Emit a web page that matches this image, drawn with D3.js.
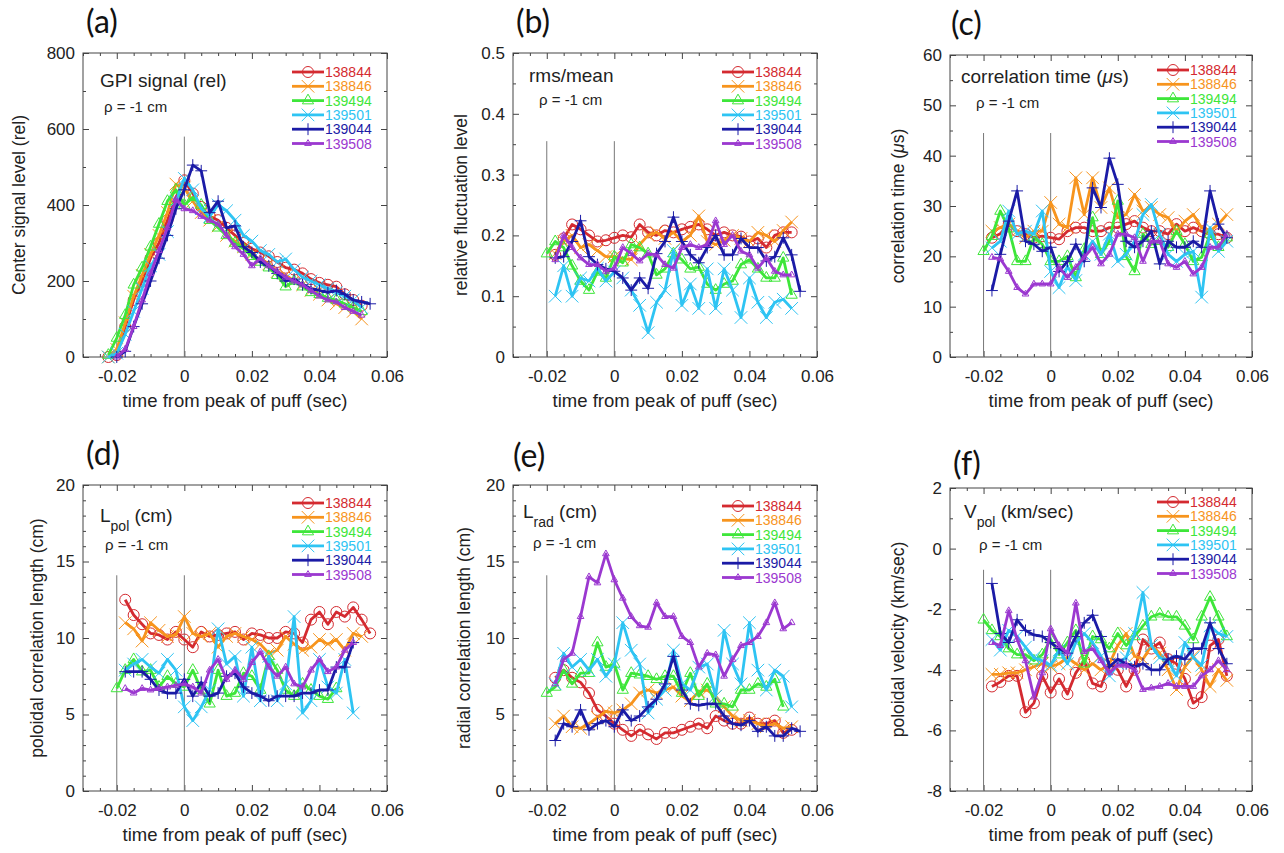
<!DOCTYPE html>
<html>
<head>
<meta charset="utf-8">
<script src="https://cdn.jsdelivr.net/npm/d3@7"></script>
<style>
  body { margin: 0; background: #fff; }
  svg { display: block; }
</style>
</head>
<body>
<script>
// shots, one colour and one marker each
const SHOTS = ["138844", "138846", "139494", "139501", "139044", "139508"];
const COLORS = ["#d42a30", "#f7941d", "#3ee63a", "#2ec4f3", "#1b1ba6", "#9b38d0"];
const MARKERS = ["circle", "times", "triangle", "times", "plus", "smallTriangle"];

// time from peak of puff (sec), common sample times
const TIME = [-0.0225, -0.02, -0.0175, -0.015, -0.0125, -0.01, -0.0075, -0.005, -0.0025, 0,
  0.0025, 0.005, 0.0075, 0.01, 0.0125, 0.015, 0.0175, 0.02, 0.0225, 0.025, 0.0275, 0.03,
  0.0325, 0.035, 0.0375, 0.04, 0.0425, 0.045, 0.0475, 0.05, 0.0525, 0.055];

const X_TICKS = [-0.02, 0, 0.02, 0.04, 0.06];

// (a) center signal level
const gpiSignal = [
  [0, 5, 80, 150, 200, 260, 300, 360, 420, 465, 430, 395, 370, 360, 340, 320, 300, 285, 275, 265, 250, 235, 230, 220, 205, 195, 190, 185, 165, 150, 135],
  [0, 20, 90, 160, 215, 270, 320, 380, 455, 445, 410, 380, 360, 345, 320, 305, 290, 270, 255, 245, 225, 215, 200, 190, 175, 165, 150, 140, 130, 120, 100],
  [5, 50, 110, 190, 235, 290, 350, 410, 440, 400, 420, 400, 360, 340, 320, 300, 285, 265, 250, 235, 215, 185, 200, 185, 170, 165, 155, 150, 140, 130, 120],
  [0, 10, 60, 120, 180, 240, 270, 330, 410, 470, 440, 390, 370, 400, 385, 360, 320, 305, 280, 270, 250, 258, 230, 210, 200, 190, 180, 170, 160, 150, 130],
  [null, 0, 15, 80, 140, 200, 260, 320, 390, 440, 505, 490, 380, 410, 340, 345, 290, 275, 250, 240, 220, 200, 205, 190, 180, 175, 170, 175, 165, 150, 145, 140],
  [null, 0, 20, 80, 150, 220, 280, 340, 415, 390, 385, 370, 360, 350, 320, 290, 270, 240, 260, 240, 225, 210, 200, 190, 175, 160, 150, 145, 130, 120, 110]
];

// (b) rms/mean
const rmsMean = [
  [null, null, 0.168, 0.195, 0.218, 0.21, 0.2, 0.19, 0.192, 0.196, 0.2, 0.197, 0.218, 0.205, 0.2, 0.208, 0.205, 0.21, 0.214, 0.218, 0.21, 0.2, 0.205, 0.2, 0.198, 0.19, 0.195, 0.18, 0.2, 0.205, 0.205],
  [null, null, 0.17, 0.19, 0.2, 0.18, 0.185, 0.175, 0.165, 0.165, 0.162, 0.16, 0.185, 0.2, 0.205, 0.195, 0.205, 0.19, 0.2, 0.232, 0.19, 0.185, 0.192, 0.2, 0.195, 0.19, 0.205, 0.2, 0.19, 0.208, 0.222],
  [null, 0.17, 0.19, 0.18, 0.15, 0.125, 0.11, 0.14, 0.13, 0.165, 0.155, 0.185, 0.18, 0.17, 0.135, 0.145, 0.17, 0.16, 0.145, 0.148, 0.12, 0.11, 0.12, 0.125, 0.152, 0.16, 0.145, 0.13, 0.13, 0.163, 0.102],
  [null, null, 0.1, 0.15, 0.1, 0.13, 0.125, 0.146, 0.125, 0.14, 0.13, 0.11, 0.085, 0.04, 0.09, 0.11, 0.175, 0.085, 0.12, 0.08, 0.145, 0.08, 0.145, 0.11, 0.065, 0.13, 0.09, 0.065, 0.09, 0.095, 0.08],
  [null, null, 0.163, 0.165, 0.19, 0.224, 0.165, 0.152, 0.145, 0.141, 0.13, 0.11, 0.13, 0.113, 0.17, 0.19, 0.23, 0.19, 0.168, 0.155, 0.18, 0.2, 0.168, 0.168, 0.195, 0.18, 0.18, 0.158, 0.165, 0.196, 0.168, 0.108],
  [null, null, 0.16, 0.2, 0.18, 0.163, 0.152, 0.152, 0.141, 0.146, 0.18, 0.17, 0.158, 0.17, 0.168, 0.152, 0.146, 0.18, 0.185, 0.18, 0.185, 0.224, 0.185, 0.2, 0.174, 0.168, 0.146, 0.163, 0.141, 0.135, 0.135]
];

// (c) correlation time (us)
const corrTime = [
  [null, null, 23.7, 24.5, 26.4, 25, 24.4, 23.7, 24, 23.7, 23.4, 25, 25.7, 25.7, 25, 25, 25.7, 25.7, 26.4, 27, 25.7, 25, 25, 24.4, 26.4, 25, 25.7, 25, 24.4, 24.4, 23.7],
  [null, null, 25, 25.7, 26.4, 25, 23.7, 25, 25, 30.7, 26.4, 25.7, 35.6, 28.3, 35.6, 29.7, 33.6, 27.7, 28.3, 32.3, 29, 29.7, 28.3, 27.7, 25, 27, 28.3, 25.7, 25, 26.4, 28.3],
  [null, 21, 24, 29, 25.5, 19, 19, 23.7, 22.4, 19, 19, 20, 15.8, 21.4, 27.7, 20.4, 23, 31, 20, 17, 24.4, 22.4, 23, 21.8, 25, 22.4, 19, 19.8, 24.4, 21.8, 23.7],
  [null, null, 21.7, 23, 29, 24.4, 25, 24.4, 29, 17, 13.8, 18, 15.2, 20.4, 23, 20.4, 24.4, 19, 20.4, 23, 28.3, 30.3, 24.4, 20.4, 19, 20.4, 21, 11.9, 25.7, 21, 23],
  [null, null, 13.2, 20.4, 27, 33, 23, 22.4, 21, 21.8, 17, 19, 22.4, 19, 33.6, 29.7, 39.5, 34.3, 23, 21.8, 23, 25, 18.5, 23, 21.8, 21.8, 23, 21.8, 33, 26.4, 23.7],
  [null, null, 19.8, 19.5, 17, 13.8, 12.5, 14.5, 14.5, 14.5, 17.8, 15.8, 17.8, 19.8, 21.8, 18.5, 20.4, 24.4, 24.4, 23.7, 19, 23, 23, 18.5, 17.8, 19, 16.5, 17.8, 21.8, 21.8, 24.4]
];

// (d) poloidal correlation length (cm)
const polCorrLength = [
  [null, null, 12.5, 11.5, 10.9, 10.3, 10.2, 9.9, 10.4, 9.9, 9.4, 10.4, 10.1, 10.2, 10.3, 10.4, 9.9, 10.3, 10.2, 10, 10, 10.4, 10.3, 9.7, 11.2, 11.7, 10.9, 11.7, 11.4, 12, 11.2, 10.3],
  [null, null, 11, 10.6, 9.8, 11, 10.5, 10.1, 10.2, 11.4, 10.3, 10.1, 10.3, 9.4, 10.1, 10.3, 10.1, 9.9, 9.6, 9, 9.2, 10.1, 9.6, 9.2, 9.4, 9.9, 9.6, 9.9, 9.2, 10.3, 10.1],
  [null, 6.7, 7.9, 8.6, 7.8, 7.9, 6.8, 7.5, 7.0, 6.8, 7.9, 6.6, 5.7, 7.9, 6.2, 6.4, 7.7, 7.5, 6.6, 8.8, 7.9, 6.6, 6.2, 7.0, 6.6, 6.2, 6.0, 6.7],
  [null, null, 7.9, 8.3, 8.6, 8.1, 7.7, 8.6, 7.9, 5.5, 4.6, 5.5, 6.6, 10.6, 8.3, 8.8, 6.2, 9.4, 5.9, 8.8, 5.9, 7.0, 11.4, 5.1, 5.9, 8.6, 6.8, 6.4, 8.6, 5.1],
  [null, null, 7.8, 7.8, 7.8, 7.3, 6.6, 6.4, 6.4, 7.3, 6.2, 7.1, 6.2, 6.4, 7.5, 7.7, 6.8, 6.4, 6.2, 5.9, 6.2, 6.2, 6.2, 6.4, 6.4, 6.6, 6.6, 8.1, 8.1, 9.7],
  [null, null, 6.7, 6.4, 6.7, 6.6, 6.7, 6.8, 6.9, 7.0, 6.8, 6.4, 7.9, 8.6, 7.3, 7.9, 7.3, 8.4, 9.1, 8.1, 7.5, 8.1, 7.0, 6.8, 7.9, 8.6, 7.8, 8.1, 9.2, 9.7]
];

// (e) radial correlation length (cm)
const radCorrLength = [
  [null, null, 7.4, 7.9, 7.4, 7.1, 6.4, 5.3, 4.9, 4.4, 4.0, 3.6, 4.0, 3.7, 3.4, 3.8, 3.8, 4.0, 4.2, 4.4, 4.1, 4.9, 4.6, 4.4, 4.4, 4.8, 4.4, 4.4, 4.6, 3.8, 4.0],
  [null, null, 4.4, 4.9, 4.2, 4.1, 4.4, 4.8, 5.2, 5.1, 5.3, 5.7, 6.4, 6.6, 6.4, 6.6, 6.8, 6.2, 5.9, 6.5, 6.6, 6.2, 5.5, 4.9, 4.6, 4.6, 4.4, 4.2, 4.4, 4.1, 4.2],
  [null, 6.4, 6.8, 7.9, 7.0, 7.7, 7.7, 9.7, 8.1, 8.3, 6.6, 7.7, 7.6, 7.5, 7.3, 7.5, 7.5, 6.4, 7.7, 6.2, 7.0, 5.7, 5.7, 5.5, 6.6, 6.6, 7.0, 6.8, 7.3, 5.5],
  [null, null, 7.0, 9.0, 8.1, 8.6, 7.9, 8.6, 7.5, 8.3, 11.0, 9.2, 8.3, 5.1, 6.0, 6.6, 9.2, 7.0, 6.6, 8.1, 8.3, 6.2, 10.5, 8.3, 7.0, 11.0, 7.9, 6.6, 7.9, 7.5, 5.5],
  [null, null, 3.3, 4.4, 4.2, 5.3, 4.0, 4.4, 4.6, 4.2, 5.3, 4.6, 4.9, 5.5, 6.0, 7.0, 8.8, 6.6, 5.7, 5.6, 5.7, 5.7, 4.9, 4.4, 4.3, 4.6, 3.9, 4.2, 3.6, 3.6, 4.1, 3.9],
  [null, null, 7.0, 8.6, 9.0, 11.4, 14.0, 13.6, 15.5, 13.8, 12.6, 11.4, 10.8, 10.7, 12.3, 11.4, 11.4, 10.1, 9.7, 8.1, 9.0, 8.9, 7.5, 8.6, 9.5, 9.7, 10.1, 11.0, 12.3, 10.6, 11.0]
];

// (f) poloidal velocity (km/sec)
const polVelocity = [
  [null, null, -4.55, -4.4, -4.2, -4.2, -5.4, -5.1, -4.2, -4.75, -4.3, -4.8, -4.1, -3.7, -4.45, -4.55, -3.8, -4.0, -4.55, -4.0, -3.0, -3.3, -3.1, -3.65, -3.8, -4.3, -5.1, -4.9, -3.2, -3.0, -4.2],
  [null, null, -4.15, -4.15, -4.1, -4.1, -4.0, -3.9, -3.8, -3.9, -3.8, -3.6, -3.8, -4.0, -3.8, -4.0, -3.8, -3.2, -2.8, -3.55, -3.65, -3.2, -3.45, -4.0, -4.65, -3.9, -3.55, -4.0, -4.55, -4.0, -4.35],
  [null, -2.35, -2.7, -2.9, -3.3, -3.5, -3.5, -3.7, -3.5, -3.0, -3.5, -3.1, -2.7, -3.8, -2.9, -3.0, -3.3, -2.8, -3.2, -2.9, -2.55, -2.25, -2.15, -2.25, -2.25, -2.55, -3.0, -2.25, -1.6, -2.25, -2.9],
  [null, null, -3.0, -3.35, -2.7, -2.9, -3.25, -3.6, -3.7, -3.85, -3.35, -3.8, -3.1, -2.8, -3.1, -3.55, -4.2, -3.8, -3.6, -2.8, -1.45, -3.2, -3.6, -3.7, -4.2, -3.1, -3.6, -3.85, -2.55, -2.8, -2.9],
  [null, null, -1.15, -2.8, -3.1, -2.35, -2.7, -2.85, -2.9, -3.1, -3.3, -3.45, -2.9, -2.45, -2.2, -2.9, -3.9, -3.65, -3.8, -3.9, -3.8, -4.0, -4.0, -3.65, -3.55, -3.65, -3.3, -3.3, -2.45, -3.3, -3.8],
  [null, null, -3.1, -3.2, -2.05, -3.0, -3.7, -4.9, -4.1, -2.65, -3.2, -3.45, -1.8, -3.4, -3.3, -3.7, -4.1, -3.85, -3.85, -4.0, -4.65, -4.6, -4.55, -4.45, -4.55, -4.55, -4.55, -4.2, -4.0, -3.7, -4.0]
];

// y tick labels per panel
const Y_TICKS_A = [0, 200, 400, 600, 800];
const Y_TICKS_B = [0, 0.1, 0.2, 0.3, 0.4, 0.5];
const Y_TICKS_C = [0, 10, 20, 30, 40, 50, 60];
const Y_TICKS_D = [0, 5, 10, 15, 20];
const Y_TICKS_E = [0, 5, 10, 15, 20];
const Y_TICKS_F = [-8, -6, -4, -2, 0, 2];

const FONT = "'Liberation Sans', Arial, Helvetica, sans-serif";

const panels = [
  { tag: "(a)", data: gpiSignal, yTicks: Y_TICKS_A, minor: 100, vTop: 580,
    yTitle: [["Center signal level (rel)"]],
    title: [["GPI signal (rel)"]],
    left: 83, top: 53, w: 304, h: 304, tagXY: [86, 33], yTitleX: 25, titleXY: [100, 87], rhoXY: [104, 112], legY: 72 },
  { tag: "(b)", data: rmsMean, yTicks: Y_TICKS_B, minor: 0.05, vTop: 0.355,
    yTitle: [["relative fluctuation level"]],
    title: [["rms/mean"]],
    left: 513, top: 53, w: 304, h: 304, tagXY: [516, 33], yTitleX: 467, titleXY: [529, 82], rhoXY: [539, 105], legY: 72 },
  { tag: "(c)", data: corrTime, yTicks: Y_TICKS_C, minor: 5, vTop: 44.5,
    yTitle: [["correlation time ("], ["\u03bc", "italic"], ["s)"]],
    title: [["correlation time ("], ["\u03bc", "italic"], ["s)"]],
    left: 950, top: 55, w: 302, h: 302, tagXY: [951, 35], yTitleX: 904, titleXY: [961, 83], rhoXY: [976, 108], legY: 70 },
  { tag: "(d)", data: polCorrLength, yTicks: Y_TICKS_D, minor: 1, vTop: 14.1,
    yTitle: [["poloidal correlation length (cm)"]],
    title: [["L"], ["pol", "sub"], [" (cm)"]],
    left: 83, top: 485, w: 304, h: 306, tagXY: [86, 465], yTitleX: 43, titleXY: [100, 522], rhoXY: [105, 550], legY: 503 },
  { tag: "(e)", data: radCorrLength, yTicks: Y_TICKS_E, minor: 1, vTop: 14.1,
    yTitle: [["radial correlation length (cm)"]],
    title: [["L"], ["rad", "sub"], [" (cm)"]],
    left: 513, top: 485, w: 304, h: 306, tagXY: [513, 467], yTitleX: 470, titleXY: [523, 518], rhoXY: [533, 548], legY: 506 },
  { tag: "(f)", data: polVelocity, yTicks: Y_TICKS_F, minor: 1, vTop: -0.7,
    yTitle: [["poloidal velocity (km/sec)"]],
    title: [["V"], ["pol", "sub"], [" (km/sec)"]],
    left: 950, top: 488, w: 302, h: 303, tagXY: [953, 475], yTitleX: 904, titleXY: [964, 518], rhoXY: [979, 550], legY: 502 }
];

const svg = d3.select("body").append("svg")
  .attr("width", 1284).attr("height", 853)
  .style("font-family", FONT);

function symbolFor(kind) {
  if (kind === "circle") return d3.symbol(d3.symbolCircle, 95)();
  if (kind === "times") return d3.symbol(d3.symbolTimes, 105)();
  if (kind === "triangle") return d3.symbol(d3.symbolTriangle2, 90)();
  if (kind === "plus") return d3.symbol(d3.symbolPlus, 48)();
  return d3.symbol(d3.symbolTriangle2, 32)();
}

// writes runs of text, italic or subscript where asked
function richText(sel, parts, subSize) {
  let shifted = false;
  parts.forEach(p => {
    const ts = sel.append("tspan").text(p[0]);
    if (p[1] === "italic") ts.style("font-style", "italic");
    if (p[1] === "sub") { ts.attr("dy", 9).style("font-size", subSize + "px"); shifted = true; }
    else if (shifted) { ts.attr("dy", -9); shifted = false; }
  });
}

const round = v => Math.round(v * 1e6) / 1e6;

panels.forEach(p => {
  const x = d3.scaleLinear().domain([-0.03, 0.06]).range([p.left, p.left + p.w]);
  const yMin = p.yTicks[0], yMax = p.yTicks[p.yTicks.length - 1];
  const y = d3.scaleLinear().domain([yMin, yMax]).range([p.top + p.h, p.top]);

  const g = svg.append("g");

  // tag (a), (b) ...
  g.append("text").attr("x", p.tagXY[0]).attr("y", p.tagXY[1])
    .style("font-family", "Lato, 'Open Sans', sans-serif").style("font-size", "32px")
    .attr("fill", "#111").text(p.tag);

  const xMinor = d3.range(-0.03, 0.0601, 0.005).map(round).filter(v => !X_TICKS.includes(v));
  const yMinor = d3.range(yMin, yMax + p.minor / 2, p.minor).map(round).filter(v => !p.yTicks.includes(v));

  const bottom = p.top + p.h, right = p.left + p.w;

  // major and minor ticks, inward on all four sides
  const addAxis = (axis, tf) => {
    const a = g.append("g").attr("transform", tf).call(axis);
    a.select(".domain").remove();
    a.selectAll(".tick line").attr("stroke", "#444");
    return a;
  };
  const xb = addAxis(d3.axisBottom(x).tickValues(X_TICKS).tickSize(-6).tickSizeOuter(0).tickPadding(13)
    .tickFormat(d => d === 0 ? "0" : String(d)), `translate(0,${bottom})`);
  xb.selectAll("text").style("font-size", "17px").style("font-family", FONT).attr("fill", "#222");
  addAxis(d3.axisBottom(x).tickValues(xMinor).tickSize(-3).tickFormat(""), `translate(0,${bottom})`);
  addAxis(d3.axisTop(x).tickValues(X_TICKS).tickSize(-6).tickFormat(""), `translate(0,${p.top})`);
  addAxis(d3.axisTop(x).tickValues(xMinor).tickSize(-3).tickFormat(""), `translate(0,${p.top})`);

  const yl = addAxis(d3.axisLeft(y).tickValues(p.yTicks).tickSize(-6).tickPadding(8)
    .tickFormat(d => String(d)), `translate(${p.left},0)`);
  yl.selectAll("text").style("font-size", "17px").style("font-family", FONT).attr("fill", "#222");
  addAxis(d3.axisLeft(y).tickValues(yMinor).tickSize(-3).tickFormat(""), `translate(${p.left},0)`);
  addAxis(d3.axisRight(y).tickValues(p.yTicks).tickSize(-6).tickFormat(""), `translate(${right},0)`);
  addAxis(d3.axisRight(y).tickValues(yMinor).tickSize(-3).tickFormat(""), `translate(${right},0)`);

  g.append("rect").attr("x", p.left).attr("y", p.top).attr("width", p.w).attr("height", p.h)
    .attr("fill", "none").attr("stroke", "#444").attr("stroke-width", 1);

  // axis titles
  g.append("text").attr("x", p.left + p.w / 2).attr("y", bottom + 50)
    .attr("text-anchor", "middle").style("font-size", "18.5px").attr("fill", "#222")
    .text("time from peak of puff (sec)");
  const yt = g.append("text")
    .attr("transform", `translate(${p.yTitleX},${p.top + p.h / 2}) rotate(-90)`)
    .attr("text-anchor", "middle").style("font-size", "17.5px").attr("fill", "#222");
  richText(yt, p.yTitle, 13);

  // puff window markers
  [-0.02, 0].forEach(t => {
    g.append("line").attr("x1", x(t)).attr("x2", x(t))
      .attr("y1", y(yMin)).attr("y2", y(p.vTop))
      .attr("stroke", "#777").attr("stroke-width", 1);
  });

  // in-plot labels
  const tt = g.append("text").attr("x", p.titleXY[0]).attr("y", p.titleXY[1])
    .style("font-size", "19px").attr("fill", "#222");
  richText(tt, p.title, 14);
  g.append("text").attr("x", p.rhoXY[0]).attr("y", p.rhoXY[1])
    .style("font-size", "15px").attr("fill", "#222").text("\u03c1 = -1 cm");

  // series
  p.data.forEach((vals, si) => {
    const pts = vals.map((v, i) => ({ t: TIME[i], v: v })).filter(d => d.v !== null);
    const line = d3.line().x(d => x(d.t)).y(d => y(d.v)).curve(d3.curveLinear);
    g.append("path").datum(pts).attr("d", line)
      .attr("fill", "none").attr("stroke", COLORS[si]).attr("stroke-width", 2.8)
      .attr("stroke-linejoin", "round");
    g.selectAll(null).data(pts).enter().append("path")
      .attr("d", symbolFor(MARKERS[si]))
      .attr("transform", d => `translate(${x(d.t)},${y(d.v)})`)
      .attr("fill", "none").attr("stroke", COLORS[si]).attr("stroke-width", 1);
  });

  // legend
  const lx = right - 95;
  SHOTS.forEach((s, i) => {
    const ly = p.legY + i * 14.3;
    g.append("line").attr("x1", lx).attr("x2", lx + 32).attr("y1", ly).attr("y2", ly)
      .attr("stroke", COLORS[i]).attr("stroke-width", 2.8);
    g.append("path").attr("d", symbolFor(MARKERS[i]))
      .attr("transform", `translate(${lx + 16},${ly})`)
      .attr("fill", "none").attr("stroke", COLORS[i]).attr("stroke-width", 1);
    g.append("text").attr("x", lx + 33).attr("y", ly + 5)
      .style("font-size", "14px").attr("fill", COLORS[i]).text(s);
  });
});
</script>
</body>
</html>
